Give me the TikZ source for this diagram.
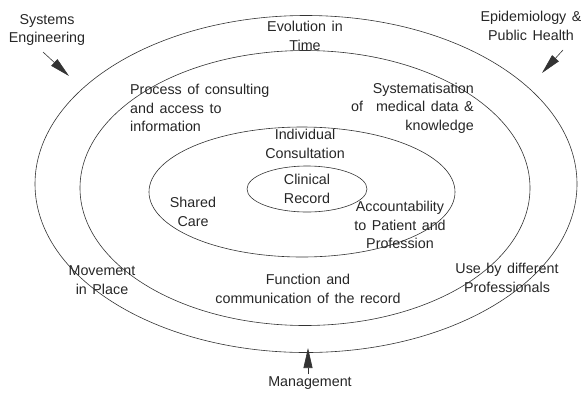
\documentclass[tikz,border=0pt]{standalone}
\usepackage{fontspec}
\setmainfont[WordSpace=1.4]{Liberation Sans}
\usetikzlibrary{arrows.meta, shapes.geometric}
\tikzstyle{ring} = [ellipse, draw=black!80, line width=0.6pt, inner sep=0pt]
\tikzstyle{txt} = [align=center, inner sep=0pt, text=black!85, font=\fontsize{14.3}{18.5}\selectfont]
\tikzstyle{push} = [draw=black!80, line width=0.6pt, -{Triangle[length=20pt, width=9pt]}]

\begin{document}
\begin{tikzpicture}[x=1pt, y=-1pt]
    \useasboundingbox (0,0) rectangle (581,392);
    \node (outer) [ring, minimum width=542pt, minimum height=337pt] at (306,184) {};
    \node (middle) [ring, minimum width=450pt, minimum height=275pt] at (305,188) {};
    \node (inner) [ring, minimum width=306pt, minimum height=130pt] at (302,192) {};
    \node (record) [ring, txt, minimum width=120pt, minimum height=46pt] at (307,189) {Clinical\\Record};
    \node (time) [txt] at (305,36) {Evolution in\\Time};
    \node (process) [txt, align=left, anchor=west] at (130,108) {Process of consulting\\and access to\\information};
    \node (system) [txt, align=right, anchor=east] at (474,108) {Systematisation\\of\hspace{0.9em}medical data \&\\knowledge};
    \node (consult) [txt] at (305,144) {Individual\\Consultation};
    \node (shared) [txt] at (193,212) {Shared\\Care};
    \node (account) [txt] at (400,225) {Accountability\\to Patient and\\Profession};
    \node (function) [txt] at (308,289) {Function and\\communication of the record};
    \node (movement) [txt] at (102,280) {Movement\\in Place};
    \node (use) [txt] at (507,278) {Use by different\\Professionals};
    \node (syseng) [txt] at (47,30) {Systems\\Engineering};
    \node (epidem) [txt] at (531,26) {Epidemiology \&\\Public Health};
    \node (manage) [txt] at (310,383) {Management};
    \coordinate (seTail) at (43,52);
    \coordinate (seTip) at (69,76);
    \coordinate (epTail) at (563,50);
    \coordinate (epTip) at (542,73);
    \coordinate (mgTail) at (308,374);
    \coordinate (mgTip) at (308,348);
    \draw[push] (seTail) -- (seTip);
    \draw[push] (epTail) -- (epTip);
    \draw[push] (mgTail) -- (mgTip);
\end{tikzpicture}
\end{document}
